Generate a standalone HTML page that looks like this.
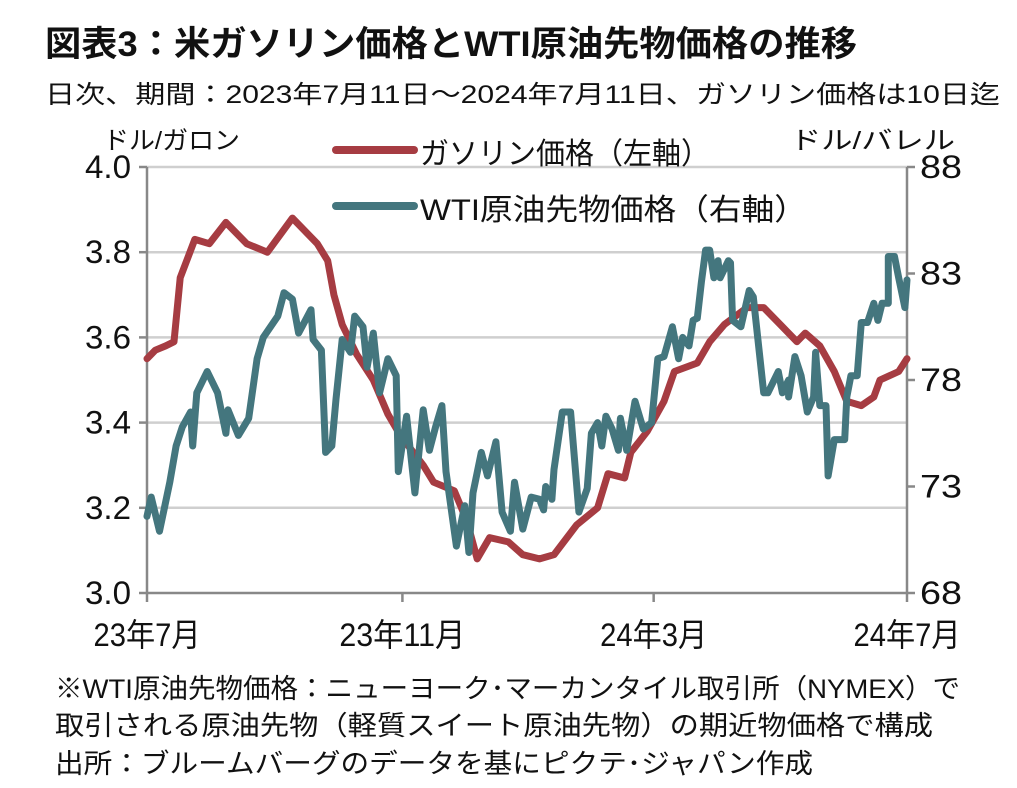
<!DOCTYPE html>
<html><head><meta charset="utf-8"><style>
body{margin:0;background:#fff}
svg{display:block}
text{font-family:"Liberation Sans","Noto Sans CJK JP",sans-serif;fill:#111}
</style></head><body>
<svg id="chart" width="1017" height="788" viewBox="0 0 1017 788">
<text x="45" y="56" font-size="35" font-weight="bold" textLength="812" lengthAdjust="spacingAndGlyphs">図表3：米ガソリン価格とWTI原油先物価格の推移</text>
<text x="45" y="103" font-size="25" textLength="955" lengthAdjust="spacingAndGlyphs">日次、期間：2023年7月11日～2024年7月11日、ガソリン価格は10日迄</text>
<text x="103" y="149" font-size="25" textLength="137" lengthAdjust="spacingAndGlyphs">ドル/ガロン</text>
<text x="790" y="149" font-size="25" textLength="165" lengthAdjust="spacingAndGlyphs">ドル/バレル</text>
<g id="grid"></g>
<g id="axes"></g>
<g id="series"></g>
<g>
<line x1="336" y1="150" x2="414" y2="150" stroke="#a63c42" stroke-width="8" stroke-linecap="round"/>
<text x="420" y="164" font-size="30" textLength="290" lengthAdjust="spacingAndGlyphs">ガソリン価格（左軸）</text>
<line x1="336" y1="206" x2="414" y2="206" stroke="#44767e" stroke-width="8" stroke-linecap="round"/>
<text x="420" y="220" font-size="30" textLength="387" lengthAdjust="spacingAndGlyphs">WTI原油先物価格（右軸）</text>
</g>
<text x="55" y="698" font-size="27" textLength="905" lengthAdjust="spacingAndGlyphs">※WTI原油先物価格：ニューヨーク･マーカンタイル取引所（NYMEX）で</text>
<text x="55" y="735" font-size="27" textLength="878" lengthAdjust="spacingAndGlyphs">取引される原油先物（軽質スイート原油先物）の期近物価格で構成</text>
<text x="55" y="773" font-size="27" textLength="758" lengthAdjust="spacingAndGlyphs">出所：ブルームバーグのデータを基にピクテ･ジャパン作成</text>
</svg>
<script>
const gasDays=[0,4,9,13,16,23,30,38,48,58,70,82,87,90,94,101,109,116,122,133,138,148,154,159,165,174,181,189,196,207,217,222,230,233,241,249,254,265,271,278,289,297,305,313,317,324,331,337,344,350,353,362,366];
const gasValues=[3.55,3.57,3.58,3.59,3.74,3.83,3.82,3.87,3.82,3.80,3.88,3.82,3.78,3.70,3.63,3.56,3.50,3.42,3.37,3.30,3.26,3.24,3.17,3.08,3.13,3.12,3.09,3.08,3.09,3.16,3.20,3.28,3.27,3.33,3.38,3.45,3.52,3.54,3.59,3.63,3.67,3.67,3.63,3.59,3.61,3.58,3.52,3.45,3.44,3.46,3.50,3.52,3.55];
const wtiDays=[0,2,6,11,14,17,21,22,24,29,34,38,39,44,49,53,56,63,66,70,73,79,80,84,86,89,91,94,98,100,104,106,109,112,116,120,121,125,129,133,136,139,142,144,149,153,155,157,161,164,168,171,175,177,181,185,189,191,192,195,196,200,204,208,212,214,217,219,221,224,227,228,231,235,239,243,246,249,253,256,258,261,263,265,267,269,271,273,275,276,280,281,282,286,290,292,297,299,304,306,309,309,312,315,318,321,322,324,327,328,331,336,337,339,342,344,347,350,352,354,357,357,360,362,365,366];
const wtiValues=[71.6,72.5,70.9,73.2,74.9,75.8,76.5,74.9,77.4,78.4,77.4,75.5,76.6,75.4,76.2,79.0,80.0,81.0,82.1,81.8,80.2,81.3,79.9,79.4,74.6,74.9,77.1,79.9,79.3,81.0,80.5,78.6,80.2,77.4,79.0,78.2,73.7,76.3,72.7,76.6,74.7,75.8,76.8,73.7,70.2,72.1,69.9,72.7,74.6,73.5,75.1,71.8,70.9,73.2,71.0,72.5,72.4,71.9,73.0,72.4,73.8,76.5,76.5,71.8,72.9,75.5,76.0,74.9,76.3,75.7,74.7,76.2,74.7,77.0,75.7,76.0,79.0,79.1,80.5,79.0,80.0,79.6,80.8,80.9,82.6,84.1,84.1,82.8,83.6,82.8,83.6,83.5,80.8,80.5,82.2,81.9,77.4,77.4,78.4,77.4,78.0,77.2,79.1,78.2,76.5,77.2,79.3,76.8,76.8,73.5,75.2,75.2,77.2,78.2,78.2,80.7,80.7,81.6,80.8,81.6,81.6,83.8,83.8,82.8,81.4,82.7];
const leftTicks=[3.0,3.2,3.4,3.6,3.8,4.0];
const leftTickLabels=["3.0","3.2","3.4","3.6","3.8","4.0"];
const rightTicks=[68,73,78,83,88];
const rightTickLabels=["68","73","78","83","88"];
const xTickDays=[0,123,244,366];
const xTickLabels=["23年7月","23年11月","24年3月","24年7月"];

const X0=147,X1=907,Y0=593,Y1=167,NS="http://www.w3.org/2000/svg";
const xs=d=>X0+d/366*(X1-X0);
const yL=v=>Y0-(v-3.0)/1.0*(Y0-Y1);
const yR=v=>Y0-(v-68)/20*(Y0-Y1);
function mk(tag,attrs,parent,txt){const e=document.createElementNS(NS,tag);for(const k in attrs)e.setAttribute(k,attrs[k]);if(txt!==undefined)e.textContent=txt;parent.appendChild(e);return e;}
const grid=document.getElementById('grid'),axes=document.getElementById('axes'),ser=document.getElementById('series');
leftTicks.forEach((v,i)=>{
  const y=yL(v);
  if(i>0){const g=mk('line',{x1:X0,x2:X1,y1:y,y2:y,stroke:'#cfcfcf','stroke-width':2.5},grid);
  
  }
  const t=mk('line',{x1:X0-8,x2:X0,y1:y,y2:y,stroke:'#888','stroke-width':2.5},axes);
  
  
  const l=mk('text',{x:131,y:y+11,'font-size':32,'text-anchor':'end',textLength:46,lengthAdjust:'spacingAndGlyphs'},axes,leftTickLabels[i]);
  
  
});
rightTicks.forEach((v,i)=>{
  const y=yR(v);
  const t=mk('line',{x1:X1,x2:X1+8,y1:y,y2:y,stroke:'#888','stroke-width':2.5},axes);
  
  
  const l=mk('text',{x:920,y:y+11,'font-size':32,textLength:42,lengthAdjust:'spacingAndGlyphs'},axes,rightTickLabels[i]);
  
  
});
const la=mk('line',{x1:X0,x2:X0,y1:Y1,y2:Y0,stroke:'#888','stroke-width':2.5},axes);


const ra=mk('line',{x1:X1,x2:X1,y1:Y1,y2:Y0,stroke:'#888','stroke-width':2.5},axes);


const ba=mk('line',{x1:X0,x2:X1,y1:Y0,y2:Y0,stroke:'#888','stroke-width':2.5},axes);


xTickDays.forEach((d,i)=>{
  const x=xs(d);
  const t=mk('line',{x1:x,x2:x,y1:Y0,y2:Y0+9,stroke:'#888','stroke-width':2.5},axes);
  
  
  const w=xTickLabels[i].length*19;
  const l=mk('text',{x:x,y:646,'font-size':32,'text-anchor':'middle',textLength:w+12,lengthAdjust:'spacingAndGlyphs'},axes,xTickLabels[i]);
  
  
});
const gp=gasDays.map((d,i)=>xs(d).toFixed(1)+','+yL(gasValues[i]).toFixed(1)).join(' ');
const g=mk('polyline',{points:gp,fill:'none',stroke:'#a63c42','stroke-width':7,'stroke-linejoin':'round','stroke-linecap':'round'},ser);


const wp=wtiDays.map((d,i)=>xs(d).toFixed(1)+','+yR(wtiValues[i]).toFixed(1)).join(' ');
const w=mk('polyline',{points:wp,fill:'none',stroke:'#44767e','stroke-width':7,'stroke-linejoin':'round','stroke-linecap':'round'},ser);


</script>
</body></html>
